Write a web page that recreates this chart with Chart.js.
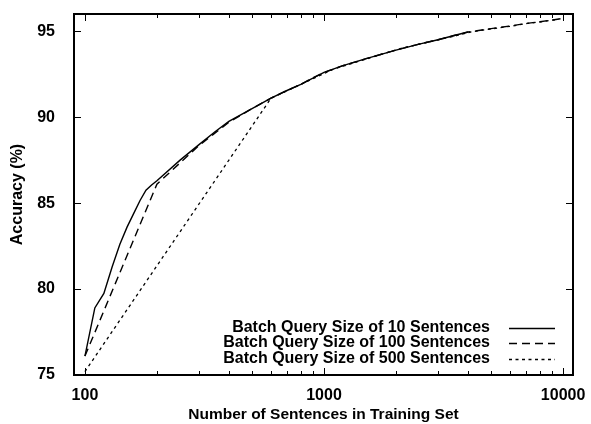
<!DOCTYPE html>
<html>
<head>
<meta charset="utf-8">
<title>Accuracy vs Training Set</title>
<script src="https://cdn.jsdelivr.net/npm/chart.js@4/dist/chart.umd.min.js"></script>
<style>
    body { margin: 0; background: #fff; }
    canvas { display: block; }
</style>
</head>
<body>
<canvas id="graficoPrecision" width="591" height="424"></canvas>
<script>
// Datos
const tamanos10 = [100, 110, 120, 130, 140, 150, 160, 170, 180, 190, 200, 250, 300, 350, 400, 500, 600, 700, 800, 1000, 1200, 1500, 2000, 2500, 3000, 3500, 4000];
const precision10 = [76.1, 78.9, 79.75, 81.3, 82.6, 83.6, 84.4, 85.15, 85.75, 86.05, 86.3, 87.5, 88.4, 89.15, 89.75, 90.5, 91.1, 91.55, 91.9, 92.6, 93.0, 93.4, 93.9, 94.25, 94.5, 94.75, 94.95];

const tamanos100 = [100, 200, 300, 400, 500, 600, 700, 800, 900, 1000, 1200, 1500, 2000, 2500, 3000, 3500, 4000, 5000, 6000, 7000, 8000, 9000, 10000];
const precision100 = [76.1, 86.1, 88.35, 89.7, 90.5, 91.1, 91.55, 91.9, 92.3, 92.6, 93.0, 93.4, 93.9, 94.25, 94.5, 94.75, 94.95, 95.15, 95.3, 95.45, 95.55, 95.65, 95.75];

const tamanos500 = [100, 600, 1100, 1600, 2100, 2600, 3100, 3600, 4100, 5100, 6100, 7100, 8100, 9100, 9600];
const precision500 = [75.2, 91.1, 92.8, 93.5, 94.0, 94.3, 94.55, 94.75, 94.95, 95.15, 95.3, 95.45, 95.55, 95.65, 95.7];

const etiquetas = ['Batch Query Size of 10 Sentences', 'Batch Query Size of 100 Sentences', 'Batch Query Size of 500 Sentences'];
const ticksX = [100, 1000, 10000];
const ticksXMenores = [200, 300, 400, 500, 600, 700, 800, 900, 2000, 3000, 4000, 5000, 6000, 7000, 8000, 9000];
const ticksY = [75, 80, 85, 90, 95];

const fuente = 'Liberation Sans, Arial, Helvetica, sans-serif';

function puntos(xs, ys) {
    return xs.map((x, i) => ({ x: x, y: ys[i] }));
}

// Marco, marcas hacia dentro y leyenda al estilo gnuplot
const marcoPlugin = {
    id: 'marco',
    afterDraw(chart) {
        const ctx = chart.ctx;
        const a = chart.chartArea;
        const sx = chart.scales.x;
        const sy = chart.scales.y;
        ctx.save();
        ctx.strokeStyle = '#000';
        ctx.lineWidth = 1;
        ctx.beginPath();
        ticksX.forEach((v) => {
            const px = Math.round(sx.getPixelForValue(v)) + 0.5;
            ctx.moveTo(px, a.bottom); ctx.lineTo(px, a.bottom - 7);
            ctx.moveTo(px, a.top); ctx.lineTo(px, a.top + 7);
        });
        ticksXMenores.forEach((v) => {
            const px = Math.round(sx.getPixelForValue(v)) + 0.5;
            ctx.moveTo(px, a.bottom); ctx.lineTo(px, a.bottom - 4);
            ctx.moveTo(px, a.top); ctx.lineTo(px, a.top + 4);
        });
        ticksY.forEach((v) => {
            const py = Math.round(sy.getPixelForValue(v)) + 0.5;
            ctx.moveTo(a.left, py); ctx.lineTo(a.left + 7, py);
            ctx.moveTo(a.right, py); ctx.lineTo(a.right - 7, py);
        });
        ctx.stroke();

        ctx.lineWidth = 2;
        ctx.strokeRect(a.left, a.top, a.right - a.left, a.bottom - a.top);

        // Leyenda
        ctx.font = 'bold 16px ' + fuente;
        ctx.fillStyle = '#000';
        ctx.textAlign = 'right';
        ctx.textBaseline = 'middle';
        chart.data.datasets.forEach((ds, i) => {
            const y = 327.5 + i * 15.5;
            ctx.fillText(ds.label, 490, y);
            ctx.lineWidth = ds.borderWidth;
            ctx.setLineDash(ds.borderDash || []);
            ctx.beginPath();
            ctx.moveTo(509, Math.round(y) + 0.5);
            ctx.lineTo(555, Math.round(y) + 0.5);
            ctx.stroke();
        });
        ctx.restore();
    }
};

const ctxPrecision = document.getElementById('graficoPrecision').getContext('2d');
new Chart(ctxPrecision, {
    type: 'line',
    data: {
        datasets: [
            { label: etiquetas[0], data: puntos(tamanos10, precision10), borderColor: '#000', borderWidth: 1.4, borderDash: [] },
            { label: etiquetas[1], data: puntos(tamanos100, precision100), borderColor: '#000', borderWidth: 1.4, borderDash: [8, 5] },
            { label: etiquetas[2], data: puntos(tamanos500, precision500), borderColor: '#000', borderWidth: 1.3, borderDash: [3, 3.5] },
        ],
    },
    options: {
        responsive: false,
        animation: false,
        layout: { padding: { left: 0, top: 14, right: 18, bottom: 0 } },
        elements: { point: { radius: 0 }, line: { tension: 0 } },
        plugins: {
            legend: { display: false },
            tooltip: { enabled: false },
        },
        scales: {
            x: {
                type: 'logarithmic',
                min: 90,
                max: 11000,
                grid: { display: false },
                border: { display: false },
                afterBuildTicks: (s) => { s.ticks = ticksX.map((v) => ({ value: v })); },
                afterFit: (s) => { s.height = 49; s.paddingLeft = 0; s.paddingRight = 0; },
                ticks: {
                    color: '#000',
                    padding: 3,
                    maxRotation: 0,
                    autoSkip: false,
                    font: { family: fuente, size: 16, weight: 'bold' },
                    callback: (v) => String(v),
                },
                title: {
                    display: true,
                    text: 'Number of Sentences in Training Set',
                    color: '#000',
                    font: { family: fuente, size: 15.5, weight: 'bold' },
                    padding: { top: 0, bottom: 0 },
                },
            },
            y: {
                min: 75,
                max: 96,
                grid: { display: false },
                border: { display: false },
                afterBuildTicks: (s) => { s.ticks = ticksY.map((v) => ({ value: v })); },
                afterFit: (s) => { s.width = 74; s.paddingTop = 0; s.paddingBottom = 0; },
                ticks: {
                    color: '#000',
                    padding: 11,
                    font: { family: fuente, size: 16, weight: 'bold' },
                },
                title: {
                    display: true,
                    text: 'Accuracy (%)',
                    color: '#000',
                    font: { family: fuente, size: 16, weight: 'bold' },
                    padding: { top: 8, bottom: 0 },
                },
            },
        },
    },
    plugins: [marcoPlugin],
});
</script>
</body>
</html>
